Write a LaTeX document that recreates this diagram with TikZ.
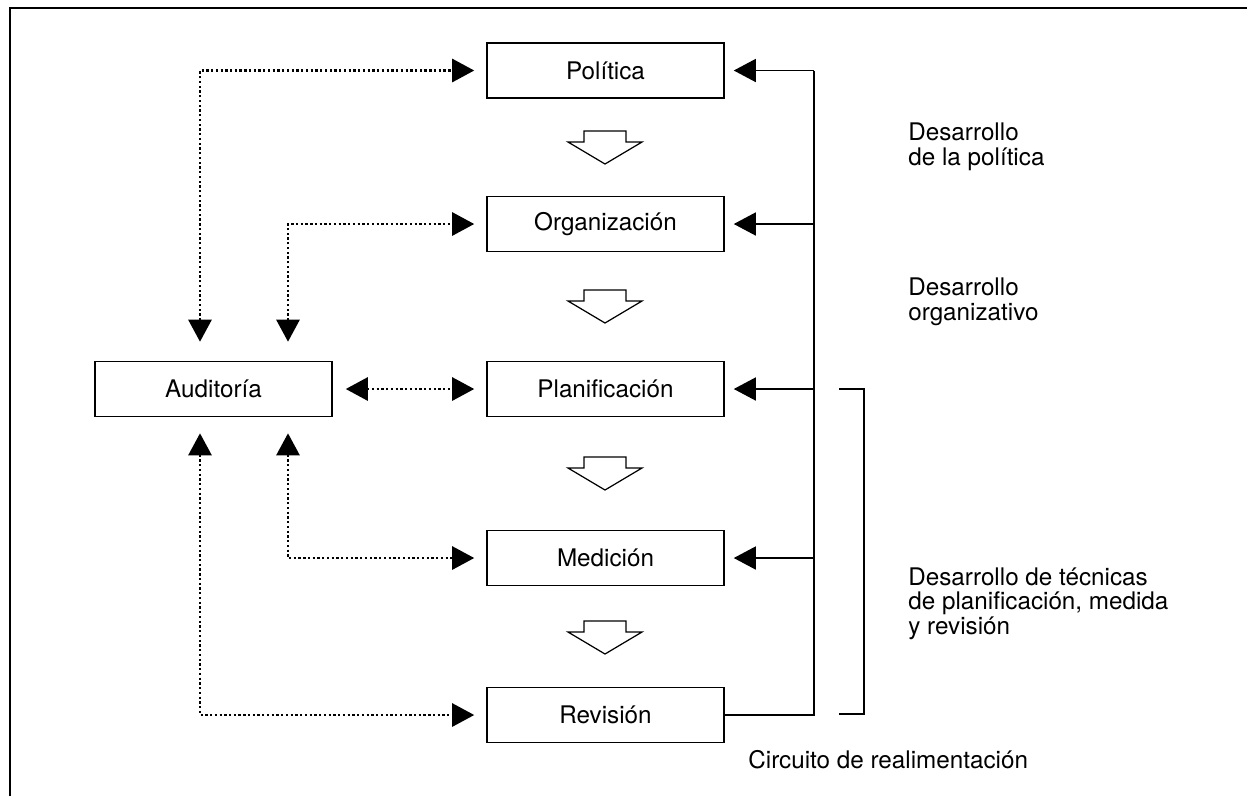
\documentclass[tikz,border=0pt]{standalone}
\usepackage{fontspec}
\setmainfont{TeX Gyre Heros}
\usetikzlibrary{arrows.meta}

\tikzset{
  every node/.style={font=\fontsize{13.8}{13.7}\selectfont},
  box/.style={draw, line width=0.9pt, minimum width=4.74cm, minimum height=1.1cm, inner sep=0pt},
  link/.style={line width=1.5pt, dash pattern=on 1.3pt off 1.4pt, {Triangle[length=0.44cm, width=0.46cm]}-{Triangle[length=0.44cm, width=0.46cm]}},
  fb/.style={line width=0.8pt},
  note/.style={anchor=base west, align=left, inner sep=0pt},
}

\begin{document}
\begin{tikzpicture}[x=0.02cm, y=-0.02cm]
  \useasboundingbox (0,0) rectangle (1247,796);
  \draw[line width=1.1pt] (10,796) -- (10,8) -- (1247,8);

  % main column
  \node[box] (pol) at (605.5,70.5) {Política};
  \node[box] (org) at (605.5,224) {Organización};
  \node[box] (pla) at (605.5,389) {Planificación};
  \node[box] (med) at (605.5,558) {Medición};
  \node[box] (rev) at (605.5,715) {Revisión};
  \node[box] (aud) at (213.5,389) {Auditoría};

  % hollow arrows between the steps
  \foreach \y in {147,306,473,637}
    \draw[line width=0.7pt] (584,\y-16) -- (626,\y-16) -- (626,\y-5) -- (642,\y-5)
      -- (605,\y+17) -- (568,\y-5) -- (584,\y-5) -- cycle;

  % audit links
  \coordinate (c1) at (200,0);
  \coordinate (c2) at (288,0);
  \draw[link, shorten <=0.38cm, shorten >=0.24cm] (aud.north -| c1) |- (pol.west);
  \draw[link, shorten <=0.38cm, shorten >=0.24cm] (aud.north -| c2) |- (org.west);
  \draw[link, shorten <=0.26cm, shorten >=0.24cm] (aud.east) -- (pla.west);
  \draw[link, shorten <=0.32cm, shorten >=0.24cm] (aud.south -| c2) |- (med.west);
  \draw[link, shorten <=0.32cm, shorten >=0.24cm] (aud.south -| c1) |- (rev.west);

  % feedback loop
  \coordinate (loop) at (814,0);
  \draw[fb] (rev.east) -| (loop |- pol.east);
  \foreach \n in {pol,org,pla,med}
    \draw[fb, -{Triangle[length=0.44cm, width=0.46cm]}, shorten >=0.18cm] (loop |- \n.east) -- (\n.east);

  % bracket
  \draw[fb] (839,389) -| (864,714) -- (839,714);

  % base sits on the last line
  \node[note] (dpol) at (908,165) {Desarrollo\\de la política};
  \node[note] (dorg) at (908,320) {Desarrollo\\organizativo};
  \node[note] (dtec) at (908,634) {Desarrollo de técnicas\\de planificación, medida\\y revisión};
  \node[note] (circ) at (748,768) {Circuito de realimentación};
\end{tikzpicture}
\end{document}
